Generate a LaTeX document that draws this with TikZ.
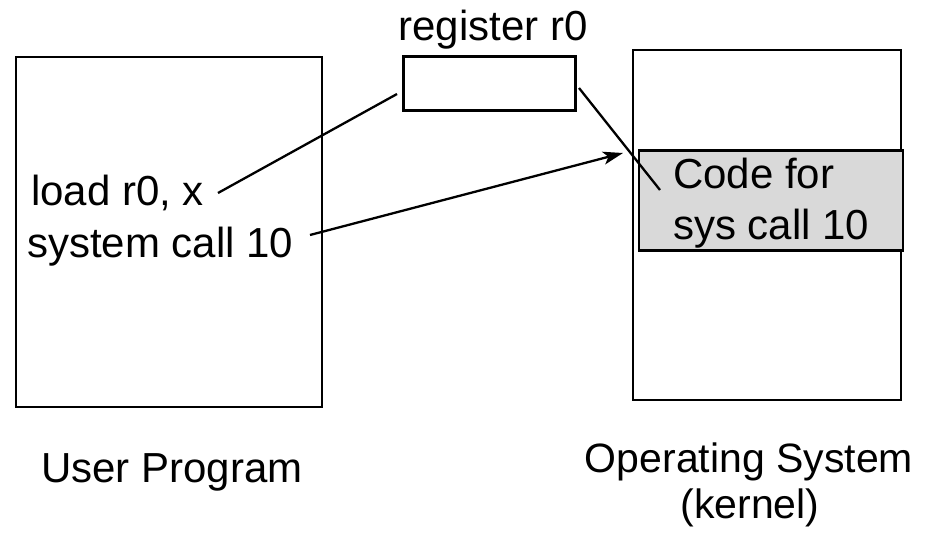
\documentclass[tikz,border=0pt]{standalone}
\usepackage{fontspec}
\setmainfont{Liberation Sans}
\usetikzlibrary{arrows.meta}
\begin{document}
\begin{tikzpicture}[x=1pt,y=-1pt,
  box/.style={draw=black,line width=2.7pt},
  lbl/.style={inner sep=0pt,font=\fontsize{42}{50}\selectfont},
  conn/.style={line width=2.3pt},
  arr/.style={line width=2.3pt,-{Stealth[length=20pt,width=13pt,inset=5pt]}}]
\useasboundingbox (0,0) rectangle (930,535);
% boxes
\draw[box] (16,57) rectangle (322,407);
\draw[box] (633,50) rectangle (901,400);
\node[box,fill=gray!30,inner sep=0pt,anchor=north west] (code) at (637.5,149)
  {\rule{0pt}{100pt}\rule{264pt}{0pt}};
\node[box,inner sep=0pt,anchor=north west] (reg) at (402,55) {\rule{0pt}{54pt}\rule{172pt}{0pt}};
% labels
\node[lbl,anchor=base] (reglbl) at (493,41) {register r0};
\node[lbl,anchor=base west] (load) at (31,205) {load r0, x};
\node[lbl,anchor=base west] (sys) at (27,257) {system call 10};
\node[lbl,anchor=base west] (code1) at (673,188) {Code for};
\node[lbl,anchor=base west] (code2) at (673,239) {sys call 10};
\node[lbl,anchor=base] (user) at (172,482) {User Program};
\node[lbl,anchor=base,font=\fontsize{41}{50}\selectfont] (os) at (749,472) {Operating System};
\node[lbl,anchor=base,font=\fontsize{41}{50}\selectfont] (kern) at (750,518) {(kernel)};
% connector end points
\coordinate (a1) at (218,193);
\coordinate (a2) at (397,94);
\coordinate (b1) at (579,88);
\coordinate (b2) at (660,190);
\coordinate (c1) at (310,235);
\coordinate (c2) at (623,153);
\draw[conn] (a1) -- (a2);
\draw[conn] (b1) -- (b2);
\draw[arr] (c1) -- (c2);
\end{tikzpicture}
\end{document}
